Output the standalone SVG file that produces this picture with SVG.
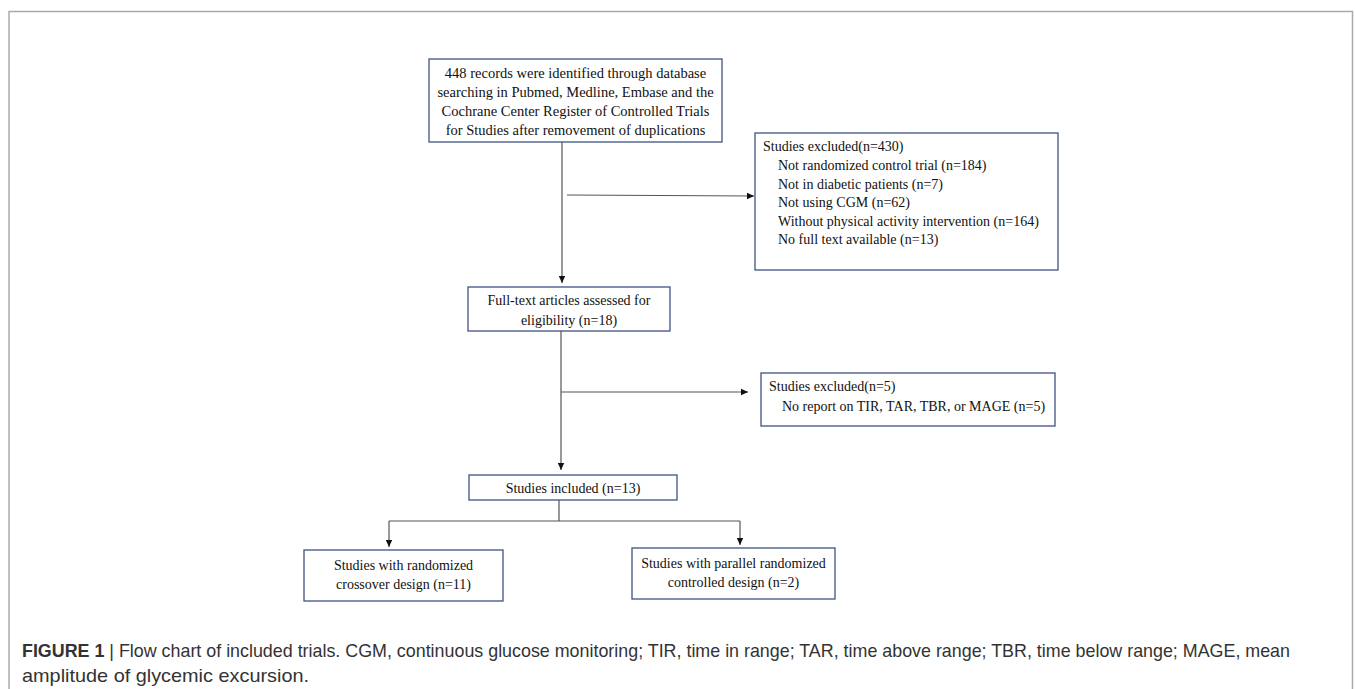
<svg xmlns="http://www.w3.org/2000/svg" width="1355" height="689" viewBox="0 0 1355 689">
<style>
.box{fill:#fff;stroke:#3f5283;stroke-width:1.3}
.t{font-family:"Liberation Serif","Times New Roman",serif;font-size:14px;fill:#111}
.big{font-size:14.5px}
.c{text-anchor:middle}
.ln{stroke:#555;stroke-width:1.2;fill:none}
.cap{font-family:"Liberation Sans",Arial,sans-serif;font-size:17.8px;fill:#333}
</style>
<defs>
<marker id="ah" markerWidth="8" markerHeight="8" refX="7" refY="4" orient="auto" markerUnits="userSpaceOnUse">
<path d="M0,0.8 L7,4 L0,7.2 Z" fill="#111"/>
</marker>
</defs>
<rect x="0" y="0" width="1355" height="689" fill="#fff"/>
<path d="M9,689 V11.5 H1352.5 V689" fill="none" stroke="#aaa" stroke-width="1.5"/>

<g id="connectors">
<line class="ln" x1="562" y1="142" x2="562" y2="283" marker-end="url(#ah)"/>
<line class="ln" x1="567" y1="195" x2="754" y2="196" marker-end="url(#ah)"/>
<line class="ln" x1="561" y1="331" x2="561" y2="470" marker-end="url(#ah)"/>
<line class="ln" x1="561" y1="392" x2="748" y2="392" marker-end="url(#ah)"/>
<path class="ln" d="M559,500 V521 M389,521 H740"/>
<line class="ln" x1="389" y1="521" x2="389" y2="547" marker-end="url(#ah)"/>
<line class="ln" x1="740" y1="521" x2="740" y2="545" marker-end="url(#ah)"/>
</g>

<g id="n1">
<rect class="box" x="429" y="59" width="293" height="83"/>
<text class="t big c" x="575.5" y="78">448 records were identified through database</text>
<text class="t big c" x="575.5" y="97">searching in Pubmed, Medline, Embase and the</text>
<text class="t big c" x="575.5" y="116">Cochrane Center Register of Controlled Trials</text>
<text class="t big c" x="575.5" y="135">for Studies after removement of duplications</text>
</g>

<g id="n2">
<rect class="box" x="755" y="133" width="303" height="137"/>
<text class="t" x="763" y="151">Studies excluded(n=430)</text>
<text class="t" x="778" y="170">Not randomized control trial (n=184)</text>
<text class="t" x="778" y="189">Not in diabetic patients (n=7)</text>
<text class="t" x="778" y="207">Not using CGM (n=62)</text>
<text class="t" x="778" y="226">Without physical activity intervention (n=164)</text>
<text class="t" x="778" y="244">No full text available (n=13)</text>
</g>

<g id="n3">
<rect class="box" x="468" y="287" width="202" height="44"/>
<text class="t c" x="569" y="305">Full-text articles assessed for</text>
<text class="t c" x="569" y="325">eligibility (n=18)</text>
</g>

<g id="n4">
<rect class="box" x="761" y="373" width="294" height="53"/>
<text class="t" x="769" y="391">Studies excluded(n=5)</text>
<text class="t" x="782" y="411">No report on TIR, TAR, TBR, or MAGE (n=5)</text>
</g>

<g id="n5">
<rect class="box" x="469" y="475" width="208" height="25"/>
<text class="t c" x="573" y="493">Studies included (n=13)</text>
</g>

<g id="n6">
<rect class="box" x="304" y="550" width="199" height="51"/>
<text class="t c" x="403.5" y="570">Studies with randomized</text>
<text class="t c" x="403.5" y="589">crossover design (n=11)</text>
</g>

<g id="n7">
<rect class="box" x="632" y="548" width="203" height="51"/>
<text class="t c" x="733.5" y="568">Studies with parallel randomized</text>
<text class="t c" x="733.5" y="587">controlled design (n=2)</text>
</g>

<text class="cap" x="22" y="657" textLength="1268" lengthAdjust="spacingAndGlyphs"><tspan font-weight="bold">FIGURE 1</tspan> | Flow chart of included trials. CGM, continuous glucose monitoring; TIR, time in range; TAR, time above range; TBR, time below range; MAGE, mean</text>
<text class="cap" x="22" y="682" textLength="287" lengthAdjust="spacingAndGlyphs">amplitude of glycemic excursion.</text>
</svg>
